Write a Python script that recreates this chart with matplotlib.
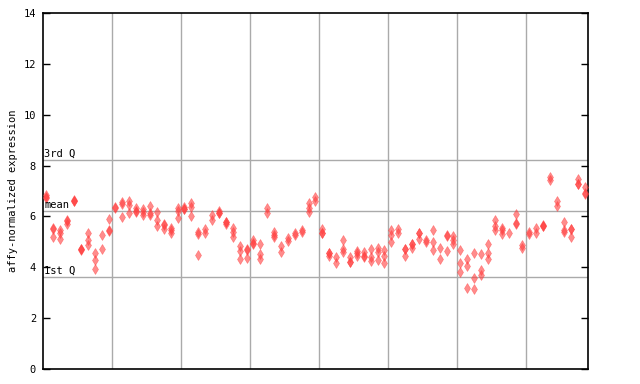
import matplotlib
matplotlib.use("Agg")
import matplotlib.pyplot as plt

values = [
    [6.85, 6.75, 6.72], [5.54, 5.50, 5.18], [5.45, 5.34, 5.10], [5.87, 5.82, 5.70],
    [6.65, 6.62, 6.60], [4.72, 4.70, 4.68], [5.34, 5.08, 4.86], [4.55, 4.29, 3.92],
    [5.26, 4.72], [5.89, 5.45, 5.42], [6.37, 6.34], [6.56, 6.47, 5.97],
    [6.59, 6.44, 6.13], [6.35, 6.23, 6.17], [6.29, 6.17, 6.06], [6.40, 6.13, 6.06],
    [6.18, 5.87, 5.63], [5.72, 5.68, 5.52], [5.56, 5.46, 5.34], [6.35, 6.23, 5.93],
    [6.39, 6.30, 6.28], [6.52, 6.36, 6.02], [5.38, 5.30, 4.48], [5.52, 5.34],
    [6.06, 5.84], [6.22, 6.15, 6.13], [5.80, 5.77, 5.70], [5.56, 5.38, 5.21],
    [4.82, 4.66, 4.32], [4.70, 4.68, 4.36], [5.08, 4.97, 4.90], [4.91, 4.51, 4.32],
    [6.33, 6.13], [5.38, 5.28, 5.21], [4.83, 4.59], [5.14, 5.03],
    [5.34, 5.26], [5.47, 5.38], [6.52, 6.33, 6.17], [6.78, 6.59],
    [5.52, 5.36, 5.33], [4.58, 4.56, 4.46], [4.40, 4.16], [5.08, 4.71, 4.62],
    [4.40, 4.21, 4.19], [4.65, 4.55, 4.46], [4.59, 4.44, 4.42], [4.71, 4.40, 4.24],
    [4.75, 4.59, 4.28], [4.69, 4.44, 4.16], [5.47, 5.28, 4.99], [5.50, 5.34],
    [4.73, 4.71, 4.44], [4.92, 4.90, 4.75], [5.36, 5.34, 5.10], [5.09, 4.99],
    [5.47, 4.99, 4.69], [4.75, 4.32], [5.27, 5.25, 4.63], [5.24, 5.08, 4.91],
    [4.69, 4.16, 3.81], [4.32, 4.04, 3.18], [4.55, 3.57, 3.14], [4.51, 3.90, 3.69],
    [4.91, 4.55, 4.32], [5.85, 5.63, 5.46], [5.54, 5.45, 5.30], [5.34],
    [6.09, 5.76, 5.71], [4.88, 4.75], [5.38, 5.30], [5.56, 5.34],
    [5.67, 5.64, 5.62], [7.57, 7.44], [6.59, 6.42], [5.79, 5.47, 5.38],
    [5.51, 5.49, 5.21], [7.47, 7.28, 7.26], [7.14, 6.94, 6.88],
]
q1, mean_v, q3 = 3.62, 6.22, 8.21
yticks = [0, 2, 4, 6, 8, 10, 12, 14]

fig = plt.figure(figsize=(6.4, 3.84), dpi=100)
ax = fig.add_axes([43/640, 15/384, 545/640, 356/384])
mono = "DejaVu Sans Mono"

for k in range(1, 8):
    ax.axvline(k*10 - 0.5, color="#aaaaaa", lw=1, zorder=1)
for v in (q1, mean_v, q3):
    ax.axhline(v, color="#aaaaaa", lw=1, zorder=1)

xs, ys = [], []
for i, col in enumerate(values):
    for v in col:
        xs.append(i)
        ys.append(v)
ax.plot(xs, ys, linestyle="none", marker="d", markersize=4.8,
        markerfacecolor="#ff4040", markeredgecolor="#ff4040",
        markeredgewidth=0.4, alpha=0.6, zorder=3)

ax.set_xlim(-0.5, len(values) - 0.5)
ax.set_ylim(0, 14)
ax.set_xticks([])
ax.set_yticks(yticks)
ax.set_yticklabels([str(t) for t in yticks], fontsize=7.5, family=mono)
ax.tick_params(axis="y", direction="in", length=5, width=1, right=True, pad=5)
for s in ax.spines.values():
    s.set_linewidth(1.2)

ax.text(-0.35, q3 + 0.05, "3rd Q", fontsize=7.5, family=mono, va="bottom", ha="left")
ax.text(-0.35, mean_v + 0.05, "mean", fontsize=7.5, family=mono, va="bottom", ha="left")
ax.text(-0.35, q1 + 0.05, "1st Q", fontsize=7.5, family=mono, va="bottom", ha="left")
ax.set_ylabel("affy-normalized expression", fontsize=7.5, family=mono, labelpad=4)

fig.savefig("out.png", dpi=100)
